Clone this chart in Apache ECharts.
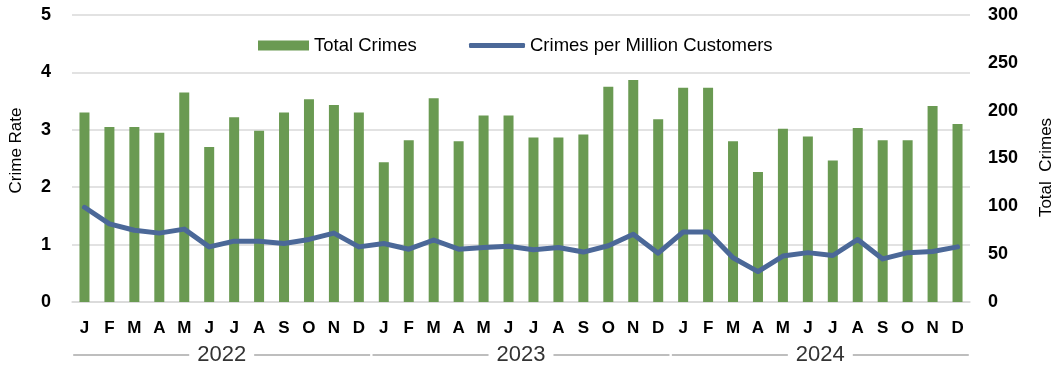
<!DOCTYPE html>
<html><head><meta charset="utf-8">
<script src="https://cdn.jsdelivr.net/npm/echarts@6/dist/echarts.min.js"></script>
<style>html,body{margin:0;padding:0;background:#fff}#c{width:1056px;height:369px}</style>
</head><body><div id="c"></div>
<script>
const months = ['J','F','M','A','M','J','J','A','S','O','N','D','J','F','M','A','M','J','J','A','S','O','N','D','J','F','M','A','M','J','J','A','S','O','N','D'];
const years = ['2022','2023','2024'];
const totalCrimes = [198,183,183,177,219,162,193,179,198,212,206,198, 146,169,213,168,195,195,172,172,175,225,232,191, 224,224,168,136,181,173,148,182,169,169,205,186];
const crimeRate = [1.65,1.36,1.25,1.20,1.27,0.96,1.06,1.06,1.02,1.09,1.20,0.96, 1.02,0.92,1.08,0.92,0.95,0.97,0.91,0.95,0.87,0.98,1.18,0.85, 1.22,1.22,0.77,0.53,0.80,0.86,0.81,1.09,0.75,0.86,0.88,0.96];
const FONT = '"Liberation Sans", Arial, sans-serif';
const BAR = '#6a9a52', LINE = '#4b6898';
const chart = echarts.init(document.getElementById('c'));
chart.setOption({
  animation:false,
  textStyle:{fontFamily:FONT},
  grid:{left:72,right:86,top:15,bottom:67,containLabel:false,outerBoundsMode:'none'},
  legend:[{
    left:253, top:31, itemWidth:51, itemHeight:10,
    textStyle:{fontSize:18.5,color:'#000',fontFamily:FONT},
    data:[{name:'Total Crimes',icon:'rect'}]
  },{
    left:464, top:31, itemWidth:56, itemHeight:5,
    textStyle:{fontSize:18.5,color:'#000',fontFamily:FONT},
    data:[{name:'Crimes per Million Customers',icon:'roundRect',itemStyle:{color:LINE}}]
  }],
  xAxis:[{
    type:'category', data:months,
    axisLine:{lineStyle:{color:'#d9d9d9',width:1.5}},
    axisTick:{show:false},
    axisLabel:{interval:0,margin:18,fontSize:17,fontWeight:'bold',color:'#000'}
  },{
    type:'category', data:years, position:'bottom',
    axisLine:{show:false}, axisTick:{show:false},
    axisLabel:{interval:0, margin:42,
      formatter:v=>'{l|}{t|'+v+'}{l|}',
      rich:{
        l:{width:116,height:1,backgroundColor:'#7f7f7f',verticalAlign:'middle'},
        t:{fontSize:22,color:'#333',padding:[0,8],verticalAlign:'middle',fontFamily:FONT}
      }}
  }],
  yAxis:[{
    type:'value', min:0, max:5, interval:1,
    name:'Crime Rate', nameLocation:'middle', nameRotate:90, nameGap:47,
    nameTextStyle:{fontSize:17,color:'#000',padding:[0,0,0,16]},
    axisLine:{show:false}, axisTick:{show:false},
    axisLabel:{fontSize:18,fontWeight:'bold',color:'#000',margin:21},
    splitLine:{lineStyle:{color:'#d9d9d9',width:1.5}}
  },{
    type:'value', min:0, max:300, interval:50,
    name:'Total  Crimes', nameLocation:'middle', nameRotate:90, nameGap:68,
    nameTextStyle:{fontSize:17,color:'#000',padding:[0,18,0,0]},
    axisLine:{show:false}, axisTick:{show:false},
    axisLabel:{fontSize:18,fontWeight:'bold',color:'#000',margin:18},
    splitLine:{show:false}
  }],
  series:[{
    name:'Total Crimes', type:'bar', yAxisIndex:1, data:totalCrimes,
    barWidth:10, itemStyle:{color:BAR}
  },{
    name:'Crimes per Million Customers', type:'line', yAxisIndex:0, data:crimeRate,
    symbol:'none', lineStyle:{color:LINE,width:5,cap:'round',join:'round'},
    itemStyle:{color:LINE}
  }]
});
</script></body></html>
